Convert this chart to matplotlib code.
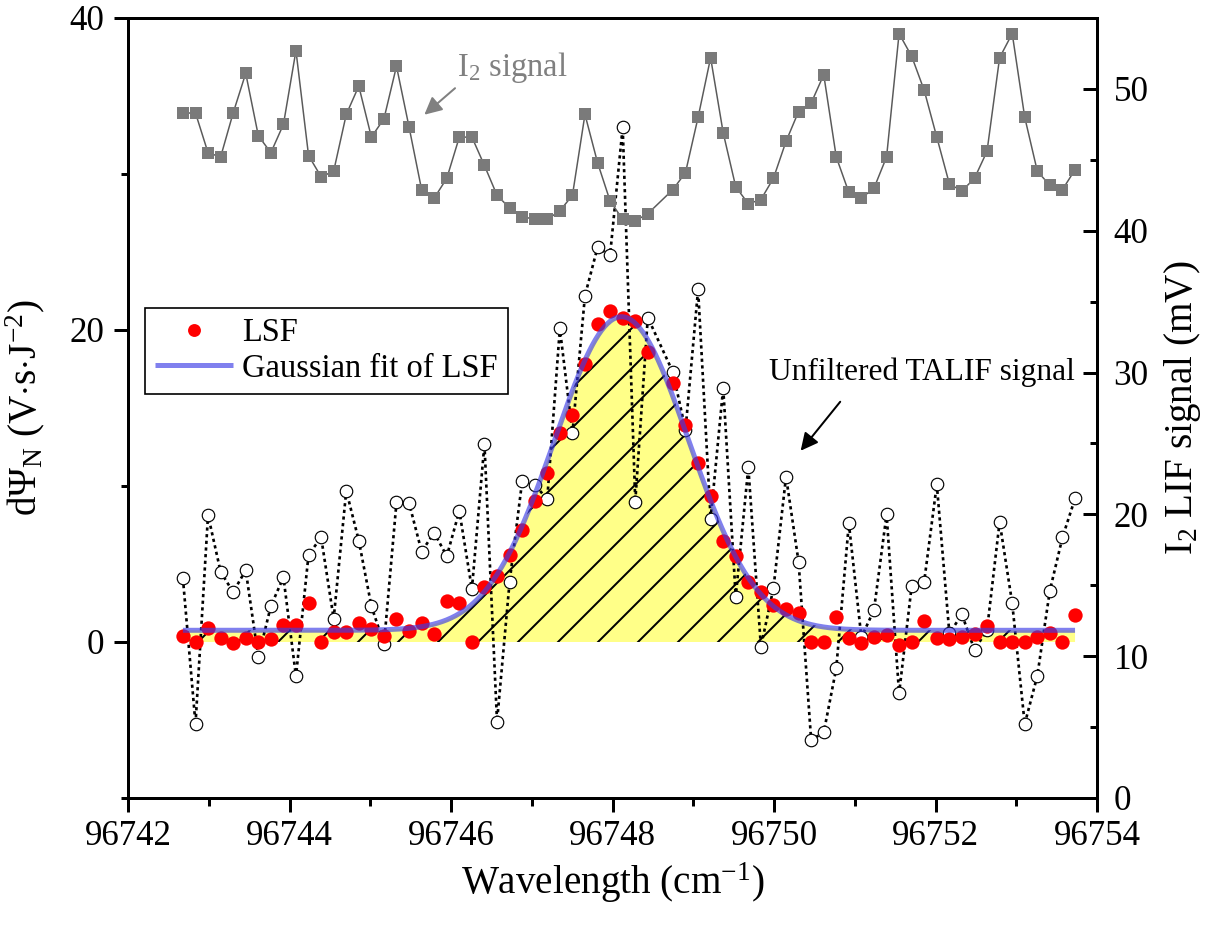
import numpy as np
import matplotlib
matplotlib.use("Agg")
import matplotlib.pyplot as plt
from matplotlib.ticker import MultipleLocator, ScalarFormatter

plt.rcParams['font.family'] = ['Liberation Serif', 'DejaVu Serif']
plt.rcParams['mathtext.fontset'] = 'custom'
plt.rcParams['mathtext.rm'] = 'Liberation Serif'
plt.rcParams['mathtext.it'] = 'Liberation Serif:italic'
plt.rcParams['hatch.linewidth'] = 1.2
plt.rcParams['hatch.color'] = 'black'

# ---------------- data ----------------
wavenumber = [96742.680, 96742.836, 96742.991, 96743.147, 96743.302, 96743.458,
              96743.614, 96743.769, 96743.925, 96744.080, 96744.236, 96744.392,
              96744.547, 96744.703, 96744.858, 96745.014, 96745.170, 96745.325,
              96745.481, 96745.636, 96745.792, 96745.948, 96746.103, 96746.259,
              96746.414, 96746.570, 96746.726, 96746.881, 96747.037, 96747.192,
              96747.348, 96747.504, 96747.659, 96747.815, 96747.970, 96748.126,
              96748.282, 96748.437, 96748.748, 96748.904, 96749.060, 96749.215,
              96749.371, 96749.526, 96749.682, 96749.838, 96749.993, 96750.149,
              96750.304, 96750.460, 96750.616, 96750.771, 96750.927, 96751.082,
              96751.238, 96751.394, 96751.549, 96751.705, 96751.860, 96752.016,
              96752.172, 96752.327, 96752.483, 96752.638, 96752.794, 96752.950,
              96753.105, 96753.261, 96753.416, 96753.572, 96753.728]

lsf = [0.38, 0.02, 0.88, 0.28, -0.09, 0.28, -0.02, 0.21, 1.09, 1.09, 2.48, 0.02,
       0.66, 0.66, 1.20, 0.81, 0.38, 1.45, 0.72, 1.20, 0.51, 2.65, 2.50, 0.02,
       3.55, 4.25, 5.55, 7.18, 9.05, 10.85, 13.40, 14.55, 17.80, 20.40, 21.20, 20.75,
       20.60, 18.60, 16.60, 13.90, 11.50, 9.36, 6.50, 5.50, 3.87, 3.23, 2.37, 2.09,
       1.84, 0.02, 0.02, 1.58, 0.23, -0.04, 0.34, 0.45, -0.19, 0.02, 1.35, 0.28,
       0.17, 0.30, 0.51, 1.03, 0.02, 0.02, 0.02, 0.30, 0.55, 0.02, 1.73]

unfiltered = [4.08, -5.26, 8.14, 4.50, 3.20, 4.60, -0.98, 2.30, 4.15, -2.20, 5.60, 6.70,
              1.50, 9.70, 6.50, 2.30, -0.13, 8.95, 8.90, 5.80, 7.00, 5.50, 8.40, 3.40,
              12.70, -5.10, 3.87, 10.30, 10.06, 9.17, 20.10, 13.40, 22.20, 25.30, 24.80, 33.00,
              9.00, 20.80, 17.30, 13.60, 22.60, 7.90, 16.30, 2.90, 11.20, -0.30, 3.44, 10.60,
              5.15, -6.28, -5.80, -1.69, 7.60, 0.30, 2.05, 8.18, -3.30, 3.59, 3.87, 10.10,
              0.55, 1.77, -0.51, 0.77, 7.70, 2.48, -5.26, -2.16, 3.29, 6.70, 9.20]

i2_signal = [48.3, 48.3, 45.5, 45.2, 48.3, 51.1, 46.7, 45.5, 47.5, 52.7, 45.3, 43.8,
             44.2, 48.2, 50.2, 46.6, 47.9, 51.6, 47.3, 42.9, 42.3, 43.7, 46.6, 46.6,
             44.6, 42.5, 41.6, 41.0, 40.8, 40.8, 41.4, 42.5, 48.2, 44.8, 42.1, 40.8,
             40.7, 41.2, 42.9, 44.1, 48.0, 52.2, 46.9, 43.1, 41.9, 42.2, 43.7, 46.3,
             48.4, 49.0, 51.0, 45.2, 42.7, 42.3, 43.0, 45.2, 53.9, 52.3, 49.9, 46.6,
             43.3, 42.8, 43.7, 45.6, 52.2, 53.9, 48.0, 44.2, 43.2, 42.9, 44.3]

# Gaussian fit parameters of the LSF
fit_offset = 0.75
fit_amp = 20.1
fit_center = 96748.112
fit_sigma = 0.83

x_ticks = [96742, 96744, 96746, 96748, 96750, 96752, 96754]

# ---------------- figure ----------------
fig = plt.figure(figsize=(1214 / 120, 927 / 120), dpi=120)
ax = fig.add_axes([128 / 1214, 1 - 798 / 927, 969 / 1214, 780 / 927])
ax2 = ax.twinx()

xs = np.array(wavenumber)
xfit = np.linspace(xs[0], xs[-1], 600)
yfit = fit_offset + fit_amp * np.exp(-(xfit - fit_center) ** 2 / (2 * fit_sigma ** 2))

ax.fill_between(xfit, 0, yfit, facecolor='#ffff88', edgecolor='black',
                hatch='/', linewidth=0, zorder=1)
ax.plot(wavenumber, unfiltered, linestyle=(0, (1.2, 1.3)), color='black', lw=1.6,
        marker='o', markersize=7.5, markerfacecolor='white', markeredgecolor='black',
        markeredgewidth=0.7, zorder=3)
ax.plot(wavenumber, lsf, linestyle='none', marker='o', markersize=8.6,
        markerfacecolor='#ff0000', markeredgecolor='#ff0000', markeredgewidth=0,
        zorder=4, label='LSF')
ax.plot(xfit, yfit, color='#3c3ce6', alpha=0.65, lw=3.0, zorder=5,
        label='Gaussian fit of LSF', solid_capstyle='butt')

ax2.plot(wavenumber, i2_signal, color='#5a5a5a', lw=0.9, marker='s', markersize=7.4,
         markerfacecolor='#7a7a7a', markeredgecolor='#7a7a7a', markeredgewidth=0)

# axes limits & ticks
ax.set_xlim(96742, 96754)
ax.set_ylim(-10, 40)
ax2.set_ylim(0, 55)

ax.set_xticks(x_ticks)
ax.xaxis.set_minor_locator(MultipleLocator(1))
fmt = ScalarFormatter(useOffset=False)
fmt.set_scientific(False)
ax.xaxis.set_major_formatter(fmt)
ax.yaxis.set_major_locator(MultipleLocator(20))
ax.yaxis.set_minor_locator(MultipleLocator(10))
ax2.yaxis.set_major_locator(MultipleLocator(10))
ax2.yaxis.set_minor_locator(MultipleLocator(5))

for a in (ax, ax2):
    for s in a.spines.values():
        s.set_linewidth(1.8)

ax.tick_params(axis='x', which='major', direction='out', length=8.4, width=1.8,
               labelsize=21, pad=5, top=False)
ax.tick_params(axis='x', which='minor', direction='out', length=4.5, width=1.8, top=False)
ax.tick_params(axis='y', which='major', direction='out', length=8.4, width=1.8,
               labelsize=21, pad=6, right=False)
ax.tick_params(axis='y', which='minor', direction='out', length=4.5, width=1.8, right=False)
ax2.tick_params(axis='y', which='major', direction='in', length=8.4, width=1.8,
                labelsize=21, pad=10)
ax2.tick_params(axis='y', which='minor', direction='in', length=4.5, width=1.8)

ax.set_xlabel('Wavelength (cm$^{-1}$)', fontsize=23.5)
ax.xaxis.set_label_coords(0.5, -0.08)
ax.set_ylabel(r'd$\Psi_\mathrm{N}$ (V$\cdot$s$\cdot$J$^{-2}$)', fontsize=23.5)
ax.yaxis.set_label_coords(-0.084, 0.5)
ax2.set_ylabel('I$_2$ LIF signal (mV)', fontsize=23.5)
ax2.yaxis.set_label_coords(1.067, 0.5)

# annotations (text + separate arrows)
ax.text(96746.08, 36.8, 'I$_2$ signal', fontsize=19.5, color='#808080',
        ha='left', va='center')
ax.annotate('', xy=(96745.67, 33.8), xytext=(96746.05, 35.5),
            arrowprops=dict(arrowstyle='-|>', color='#808080', lw=1.2,
                            mutation_scale=22, shrinkA=0, shrinkB=0))
ax.text(96749.94, 17.3, 'Unfiltered TALIF signal', fontsize=18.8, color='black',
        ha='left', va='center')
ax.annotate('', xy=(96750.33, 12.26), xytext=(96750.82, 15.4),
            arrowprops=dict(arrowstyle='-|>', color='black', lw=1.2,
                            mutation_scale=22, shrinkA=0, shrinkB=0))

leg = ax.legend(loc='upper left', bbox_to_anchor=(0.0175, 0.628), borderaxespad=0,
                fontsize=19.5, frameon=True, fancybox=False, edgecolor='black',
                framealpha=1, handlelength=2.4, handletextpad=0.3, labelspacing=0.15,
                borderpad=0.3, markerscale=0.9)
leg.get_frame().set_linewidth(1.0)
leg.set_zorder(10)

fig.savefig('out.png', dpi=120)
